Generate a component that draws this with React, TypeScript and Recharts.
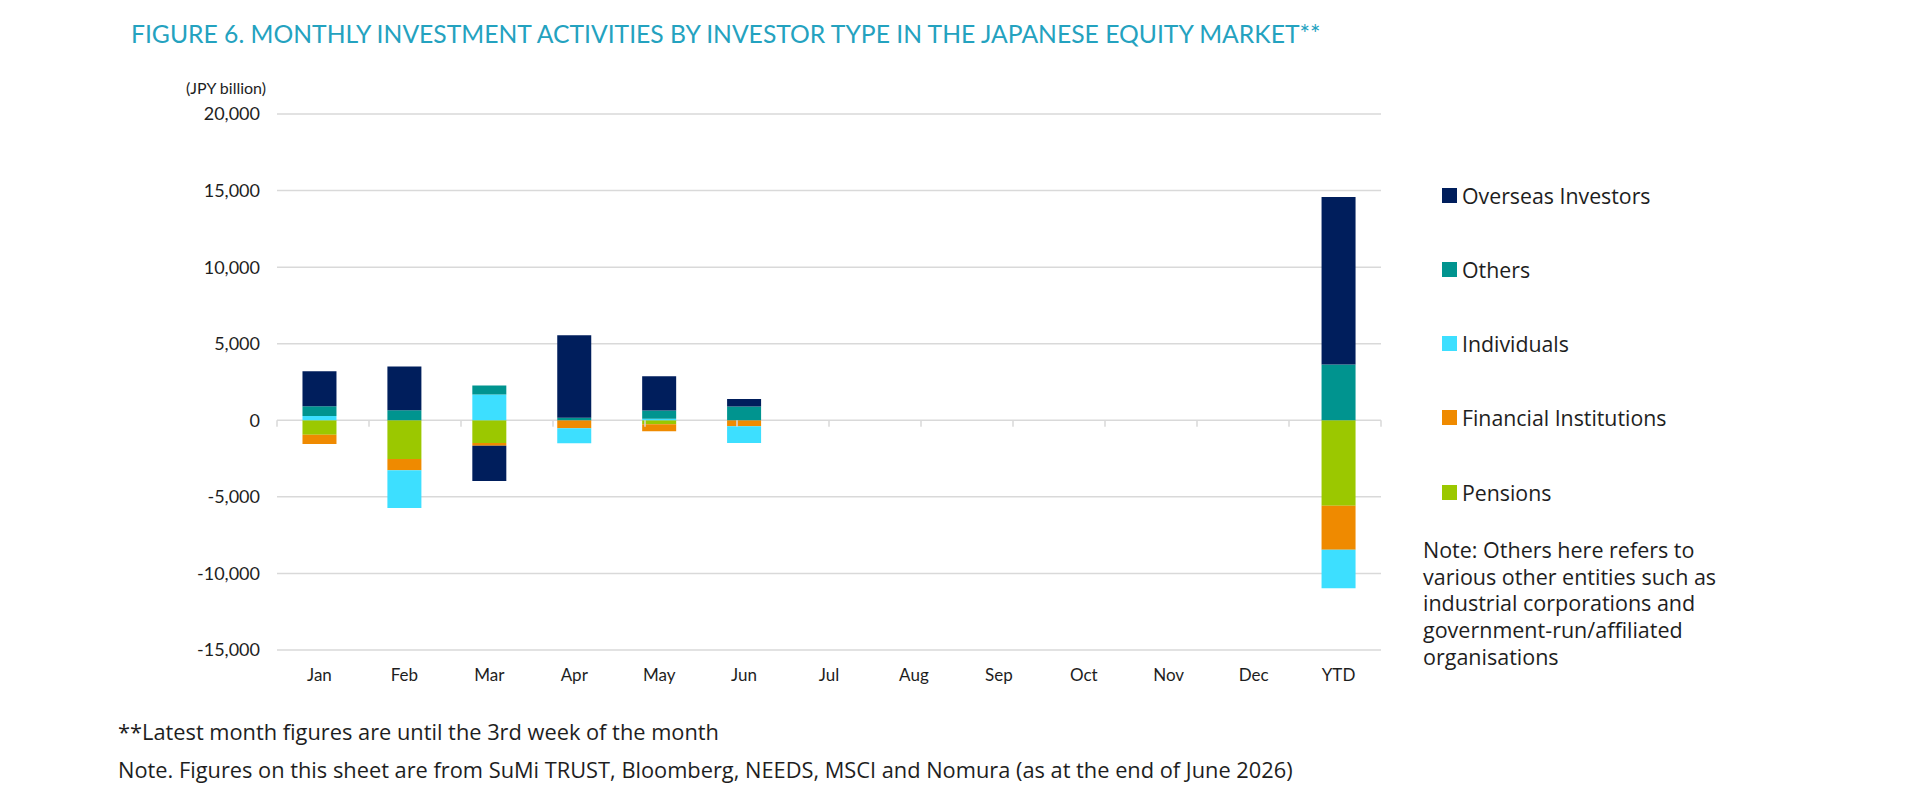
import { Bar, BarChart, CartesianGrid, ReferenceLine, XAxis, YAxis } from 'recharts'

// JPY billion, net buying (+) / selling (-) per investor type
const months = ['Jan', 'Feb', 'Mar', 'Apr', 'May', 'Jun', 'Jul', 'Aug', 'Sep', 'Oct', 'Nov', 'Dec', 'YTD']
const pensions = [-940, -2530, -1480, 0, -260, 0, null, null, null, null, null, null, -5580]
const financialInstitutions = [-610, -740, -180, -520, -460, -390, null, null, null, null, null, null, -2880]
const individuals = [285, -2460, 1680, -980, 100, -1090, null, null, null, null, null, null, -2510]
const others = [630, 650, 590, 170, 545, 900, null, null, null, null, null, null, 3640]
const overseasInvestors = [2290, 2860, -2310, 5380, 2230, 490, null, null, null, null, null, null, 10940]
const yTicks = [-15000, -10000, -5000, 0, 5000, 10000, 15000, 20000]

const series = [
  { key: 'pensions', name: 'Pensions', color: '#9bc800', values: pensions },
  { key: 'financial', name: 'Financial Institutions', color: '#ef8a00', values: financialInstitutions },
  { key: 'individuals', name: 'Individuals', color: '#3ddfff', values: individuals },
  { key: 'others', name: 'Others', color: '#00948f', values: others },
  { key: 'overseas', name: 'Overseas Investors', color: '#001e5c', values: overseasInvestors },
]

const data = months.map((month, i) => {
  const row: Record<string, string | number | null> = { month }
  series.forEach((s) => {
    row[s.key] = s.values[i]
  })
  return row
})

// category boundaries for the small tick marks on the zero line
const edges = months.map((_, i) => i).concat(months.length)

const noteLines = [
  'Note: Others here refers to',
  'various other entities such as',
  'industrial corporations and',
  'government-run/affiliated',
  'organisations',
]

const axisFont = 'Lato, "Open Sans", sans-serif'
const textFont = '"Open Sans", Lato, sans-serif'

export default function App() {
  return (
    <div
      style={{
        position: 'absolute',
        left: 0,
        top: 0,
        width: 1920,
        height: 787,
        background: '#fff',
        fontFamily: textFont,
        color: '#1e1e1e',
        overflow: 'hidden',
      }}
    >
      <div
        style={{
          position: 'absolute',
          left: 131,
          top: 21,
          fontFamily: axisFont,
          fontSize: 24.7,
          lineHeight: '26px',
          color: '#24a2bf',
          whiteSpace: 'nowrap',
        }}
      >
        FIGURE 6. MONTHLY INVESTMENT ACTIVITIES BY INVESTOR TYPE IN THE JAPANESE EQUITY MARKET**
      </div>
      <div style={{ position: 'absolute', left: 186, top: 77, fontFamily: axisFont, fontSize: 16, lineHeight: '22px' }}>
        (JPY billion)
      </div>

      <div style={{ position: 'absolute', left: 0, top: 0 }}>
        <BarChart
          width={1400}
          height={700}
          data={data}
          stackOffset="sign"
          barCategoryGap="30%"
          margin={{ top: 114, right: 19, bottom: 0, left: 0 }}
        >
          <CartesianGrid vertical={false} stroke="#d9d9d9" strokeWidth={1.5} />
          <XAxis
            dataKey="month"
            axisLine={false}
            tickLine={false}
            height={50}
            tickMargin={13}
            tick={{ fontSize: 17, fill: '#1e1e1e', fontFamily: axisFont }}
            interval={0}
          />
          <XAxis xAxisId="edges" type="number" domain={[0, months.length]} allowDataOverflow hide />
          <YAxis
            width={277}
            domain={[-15000, 20000]}
            ticks={yTicks}
            axisLine={false}
            tickLine={false}
            tickMargin={11}
            tickFormatter={(v: number) => v.toLocaleString('en-US')}
            tick={{ fontSize: 18, fill: '#1e1e1e', fontFamily: axisFont }}
          />
          {edges.map((e) => (
            <ReferenceLine
              key={e}
              xAxisId="edges"
              segment={[
                { x: e, y: 0 },
                { x: e, y: -420 },
              ]}
              stroke="#d9d9d9"
              strokeWidth={1.5}
            />
          ))}
          {series.map((s) => (
            <Bar key={s.key} dataKey={s.key} name={s.name} stackId="a" fill={s.color} isAnimationActive={false} />
          ))}
        </BarChart>
      </div>

      {series
        .slice()
        .reverse()
        .map((s, i) => (
          <div
            key={s.key}
            style={{
              position: 'absolute',
              left: 1442,
              top: 195 + i * 74.3 - 15,
              height: 30,
              display: 'flex',
              alignItems: 'center',
              fontSize: 21.3,
              whiteSpace: 'nowrap',
            }}
          >
            <span style={{ width: 15, height: 15, background: s.color, marginRight: 5 }} />
            {s.name}
          </div>
        ))}

      {noteLines.map((line, i) => (
        <div
          key={line}
          style={{
            position: 'absolute',
            left: 1423,
            top: 550 + i * 26.7 - 14,
            height: 28,
            lineHeight: '28px',
            fontSize: 21.5,
            whiteSpace: 'nowrap',
          }}
        >
          {line}
        </div>
      ))}

      <div style={{ position: 'absolute', left: 118, top: 718, fontSize: 21.8, lineHeight: '28px', whiteSpace: 'nowrap' }}>
        **Latest month figures are until the 3rd week of the month
      </div>
      <div style={{ position: 'absolute', left: 118, top: 756, fontSize: 21.8, lineHeight: '28px', whiteSpace: 'nowrap' }}>
        Note. Figures on this sheet are from SuMi TRUST, Bloomberg, NEEDS, MSCI and Nomura (as at the end of June 2026)
      </div>
    </div>
  )
}
